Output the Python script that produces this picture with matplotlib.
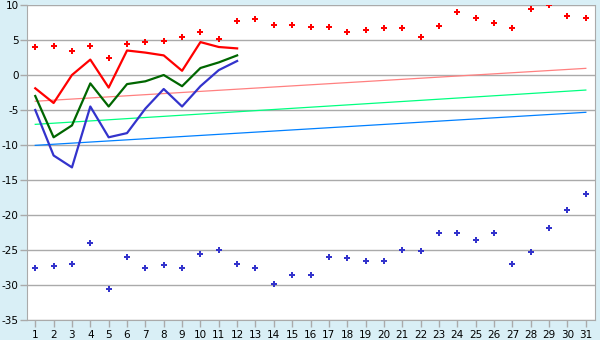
import numpy as np
import matplotlib.pyplot as plt

plt.rcParams['axes.unicode_minus'] = False

# --- Data ---
days = np.arange(1, 32)
red_points = [4.0, 4.1, 3.5, 4.1, 2.5, 4.4, 4.7, 4.8, 5.4, 6.1, 5.2, 7.7, 8.0, 7.2, 7.1,
              6.8, 6.8, 6.1, 6.5, 6.7, 6.7, 5.4, 7.0, 9.0, 8.1, 7.5, 6.7, 9.5, 10.0, 8.5, 8.1]
blue_points = [-27.6, -27.3, -27.0, -24.0, -30.6, -26.0, -27.5, -27.2, -27.6, -25.5, -25.0,
               -27.0, -27.6, -29.9, -28.6, -28.6, -26.0, -26.2, -26.6, -26.6, -25.0, -25.2,
               -22.6, -22.6, -23.5, -22.6, -27.0, -25.3, -21.8, -19.3, -17.0]

line_days = np.arange(1, 13)
red_line = [-1.9, -4.0, 0.0, 2.2, -1.8, 3.5, 3.2, 2.8, 0.6, 4.7, 4.0, 3.8]
green_line = [-3.0, -8.9, -7.2, -1.2, -4.5, -1.3, -0.9, 0.0, -1.6, 1.0, 1.8, 2.8]
blue_line = [-5.0, -11.5, -13.2, -4.5, -8.9, -8.3, -4.8, -2.0, -4.5, -1.6, 0.7, 2.0]

trend_days = [1, 31]
pink_trend = [-3.75, 0.95]
mint_trend = [-7.05, -2.15]
sky_trend = [-10.05, -5.33]

# --- Figure ---
fig = plt.figure(figsize=(6, 3.4), dpi=100, facecolor='#d9eff6')
ax = fig.add_axes([27 / 600, 20 / 340, 568 / 600, 315 / 340])
ax.set_facecolor('white')

ax.plot(trend_days, pink_trend, color='#ff8080', linewidth=0.9)
ax.plot(trend_days, mint_trend, color='#00ff80', linewidth=0.9)
ax.plot(trend_days, sky_trend, color='#0080ff', linewidth=0.9)

ax.plot(line_days, red_line, color='#ff0000', linewidth=1.6)
ax.plot(line_days, green_line, color='#006600', linewidth=1.6)
ax.plot(line_days, blue_line, color='#3333cc', linewidth=1.6)

ax.plot(days, red_points, linestyle='none', marker='P', markersize=4.5,
        color='#ff0000', markeredgewidth=0)
ax.plot(days, blue_points, linestyle='none', marker='P', markersize=4.5,
        color='#3333cc', markeredgewidth=0)

ax.set_xlim(0.55, 31.5)
ax.set_ylim(-35, 10)
ax.set_xticks(days)
ax.set_yticks(np.arange(-35, 11, 5))
ax.yaxis.grid(True, color='#aaaaaa', linewidth=1)
ax.set_axisbelow(True)

for side in ['left', 'bottom', 'right']:
    ax.spines[side].set_color('#aaaaaa')
ax.spines['top'].set_visible(False)
ax.tick_params(axis='both', colors='#aaaaaa', labelcolor='black', labelsize=7.5,
               length=5, width=1)
ax.tick_params(axis='y', pad=1)
ax.tick_params(axis='x', pad=2)

fig.savefig('out.png', dpi=100, facecolor=fig.get_facecolor())
